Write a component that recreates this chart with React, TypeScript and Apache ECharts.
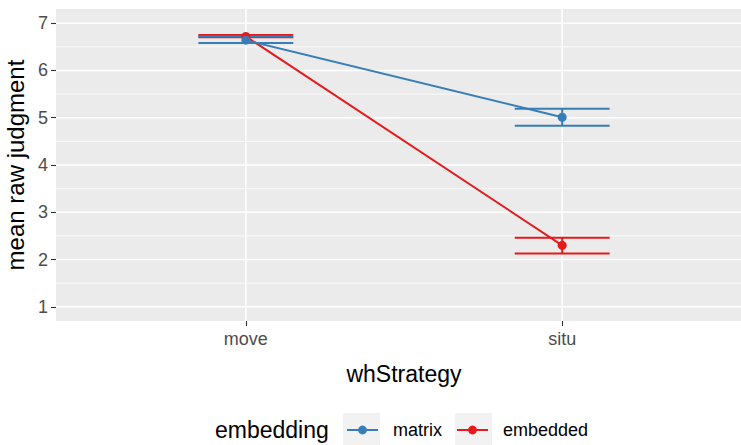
import React, { useEffect, useRef } from "react";
import * as echarts from "echarts";

const categories = ["move", "situ"];
const groups = ["matrix", "embedded"];
const matrixMean = [6.64, 5.01];
const matrixLower = [6.58, 4.83];
const matrixUpper = [6.72, 5.19];
const embeddedMean = [6.72, 2.3];
const embeddedLower = [6.7, 2.13];
const embeddedUpper = [6.75, 2.46];
const yTicks = [1, 2, 3, 4, 5, 6, 7];
const yMinor = [1.5, 2.5, 3.5, 4.5, 5.5, 6.5];
const legendTitle = "embedding";
const xTitle = "whStrategy";
const yTitle = "mean raw judgment";

const colors: Record<string, string> = { matrix: "#377EB8", embedded: "#E41A1C" };
const FONT = "'Liberation Sans', Arial, Helvetica, sans-serif";
const X_MIN = 0.4;
const X_MAX = 2.6;
const Y_MIN = 0.7;
const Y_MAX = 7.3;

export default function App() {
  const ref = useRef<HTMLDivElement>(null);
  useEffect(() => {
    document.body.style.margin = "0";
    if (!ref.current) return;
    const chart = echarts.init(ref.current, undefined, { renderer: "svg" });

    const xs = categories.map((_, i) => i + 1);
    const lineData = (means: number[]) => xs.map((x, i) => [x, means[i]]);
    const errData = (lo: number[], hi: number[]) => xs.map((x, i) => [x, lo[i], hi[i]]);

    const errSeries = (name: string, lo: number[], hi: number[]) => ({
      type: "custom",
      name: name + "-se",
      z: 3,
      encode: { x: 0, y: [1, 2] },
      data: errData(lo, hi),
      renderItem: (_p: any, api: any) => {
        const x = api.value(0);
        const lo = api.value(1);
        const hi = api.value(2);
        const a = api.coord([x - 0.15, lo]);
        const b = api.coord([x + 0.15, hi]);
        const c = api.coord([x, lo]);
        const style = { stroke: colors[name], lineWidth: 2 };
        return {
          type: "group",
          children: [
            { type: "line", shape: { x1: a[0], y1: a[1], x2: b[0], y2: a[1] }, style },
            { type: "line", shape: { x1: a[0], y1: b[1], x2: b[0], y2: b[1] }, style },
            { type: "line", shape: { x1: c[0], y1: a[1], x2: c[0], y2: b[1] }, style },
          ],
        };
      },
    });

    const lineSeries = (name: string, means: number[]) => ({
      type: "line",
      name,
      z: 3,
      data: lineData(means),
      symbol: "circle",
      symbolSize: 9,
      showSymbol: true,
      lineStyle: { color: colors[name], width: 2 },
      itemStyle: { color: colors[name] },
      color: colors[name],
    });

    const gridSeries = {
      type: "custom",
      name: "grid",
      z: 1,
      silent: true,
      data: [0],
      renderItem: (_p: any, api: any) => {
        const children: any[] = [];
        yMinor.forEach((v) => {
          const a = api.coord([X_MIN, v]);
          const b = api.coord([X_MAX, v]);
          children.push({ type: "line", shape: { x1: a[0], y1: a[1], x2: b[0], y2: b[1] }, style: { stroke: "#FFFFFF", lineWidth: 0.8 } });
        });
        yTicks.forEach((v) => {
          const a = api.coord([X_MIN, v]);
          const b = api.coord([X_MAX, v]);
          children.push({ type: "line", shape: { x1: a[0], y1: a[1], x2: b[0], y2: b[1] }, style: { stroke: "#FFFFFF", lineWidth: 1.6 } });
        });
        xs.forEach((v) => {
          const a = api.coord([v, Y_MIN]);
          const b = api.coord([v, Y_MAX]);
          children.push({ type: "line", shape: { x1: a[0], y1: a[1], x2: b[0], y2: b[1] }, style: { stroke: "#FFFFFF", lineWidth: 1.6 } });
        });
        return { type: "group", children };
      },
    };

    chart.setOption({
      animation: false,
      textStyle: { fontFamily: FONT },
      grid: {
        left: 56,
        right: -11,
        top: 9,
        bottom: 124,
        show: true,
        backgroundColor: "#EBEBEB",
        borderWidth: 0,
        containLabel: false,
        outerBoundsMode: "none",
      },
      xAxis: {
        type: "value",
        min: X_MIN,
        max: X_MAX,
        axisLine: { show: false },
        splitLine: { show: false },
        axisTick: { show: true, customValues: xs, length: 5, lineStyle: { color: "#333333", width: 1.1 } },
        axisLabel: {
          customValues: xs,
          formatter: (v: number) => categories[Math.round(v) - 1] ?? "",
          color: "#4D4D4D",
          fontSize: 18,
          margin: 9,
          fontFamily: FONT,
        },
        name: xTitle,
        nameLocation: "middle",
        nameGap: 41,
        nameTextStyle: { color: "#000000", fontSize: 23, fontFamily: FONT },
      },
      yAxis: {
        type: "value",
        min: Y_MIN,
        max: Y_MAX,
        axisLine: { show: false },
        splitLine: { show: false },
        axisTick: { show: true, customValues: yTicks, length: 5, lineStyle: { color: "#333333", width: 1.1 } },
        axisLabel: {
          customValues: yTicks,
          color: "#4D4D4D",
          fontSize: 18,
          margin: 8,
          fontFamily: FONT,
        },
        name: yTitle,
        nameLocation: "middle",
        nameGap: 22,
        nameRotate: 90,
        nameTextStyle: { color: "#000000", fontSize: 24, fontFamily: FONT },
      },
      legend: {
        data: groups,
        left: 346,
        top: 421,
        padding: 0,
        itemWidth: 31,
        itemHeight: 11,
        itemGap: 14,
        selectedMode: false,
        textStyle: { color: "#000000", fontSize: 18, fontFamily: FONT, padding: [0, 0, 0, 10] },
      },
      graphic: [
        { type: "rect", left: 343, top: 413, shape: { width: 37, height: 37 }, style: { fill: "#F2F2F2" }, z: -1 },
        { type: "rect", left: 455, top: 413, shape: { width: 37, height: 37 }, style: { fill: "#F2F2F2" }, z: -1 },
        {
          type: "text",
          left: 215,
          top: 418,
          style: { text: legendTitle, fontSize: 23, fill: "#000000", fontFamily: FONT },
        },
      ],
      series: [
        gridSeries,
        lineSeries("embedded", embeddedMean),
        errSeries("embedded", embeddedLower, embeddedUpper),
        lineSeries("matrix", matrixMean),
        errSeries("matrix", matrixLower, matrixUpper),
      ],
    });
    return () => chart.dispose();
  }, []);
  return <div ref={ref} style={{ width: 741, height: 445 }} />;
}
